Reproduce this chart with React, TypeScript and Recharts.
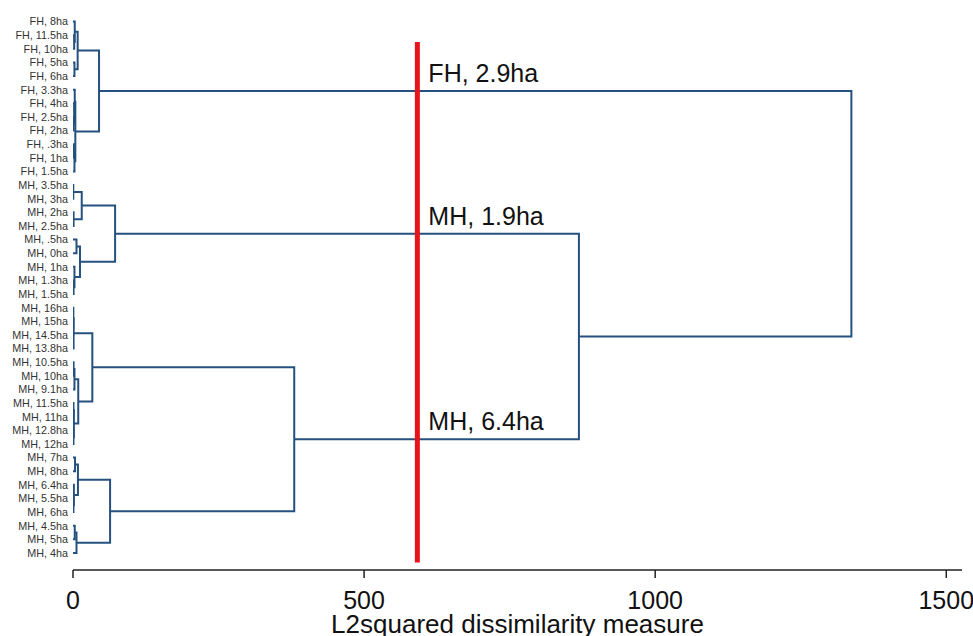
import React from 'react';
import { ComposedChart, Line, XAxis, YAxis, ReferenceDot } from 'recharts';

const leafLabels = [
  'FH, 8ha', 'FH, 11.5ha', 'FH, 10ha', 'FH, 5ha', 'FH, 6ha', 'FH, 3.3ha', 'FH, 4ha', 'FH, 2.5ha',
  'FH, 2ha', 'FH, .3ha', 'FH, 1ha', 'FH, 1.5ha',
  'MH, 3.5ha', 'MH, 3ha', 'MH, 2ha', 'MH, 2.5ha', 'MH, .5ha', 'MH, 0ha', 'MH, 1ha', 'MH, 1.3ha', 'MH, 1.5ha',
  'MH, 16ha', 'MH, 15ha', 'MH, 14.5ha', 'MH, 13.8ha', 'MH, 10.5ha', 'MH, 10ha', 'MH, 9.1ha', 'MH, 11.5ha',
  'MH, 11ha', 'MH, 12.8ha', 'MH, 12ha',
  'MH, 7ha', 'MH, 8ha', 'MH, 6.4ha', 'MH, 5.5ha', 'MH, 6ha', 'MH, 4.5ha', 'MH, 5ha', 'MH, 4ha',
];

// linkage: node ids 0..39 are leaves, 40+k is the k-th merge
const mergeLeft = [1, 0, 3, 41, 7, 6, 5, 9, 47, 46, 43, 12, 14, 51, 16, 19, 18, 54, 53, 22, 21, 60, 25, 62, 28, 30, 64, 63, 61, 32, 35, 34, 69, 37, 73, 72, 68, 58, 50];
const mergeRight = [2, 40, 4, 42, 8, 44, 45, 10, 11, 48, 49, 13, 15, 52, 17, 20, 55, 56, 57, 23, 59, 24, 26, 27, 29, 31, 65, 66, 67, 33, 36, 70, 71, 38, 39, 74, 75, 76, 77];
const mergeHeight = [2.0, 3.0, 2.5, 8.0, 1.0, 2.0, 3.0, 1.5, 2.5, 4.0, 44.7, 0.5, 1.0, 15, 6, 1.0, 2.5, 12, 72.3, 0.3, 0.6, 1.0, 1.0, 2.5, 0.8, 0.8, 1.5, 9, 33.2, 3.5, 0.8, 1.5, 8.5, 3.0, 6.0, 63.7, 380, 869, 1337];

const cutHeight = 591.5;
const cutSpan = [1.5, 39.7];
const cutLabels = ['FH, 2.9ha', 'MH, 1.9ha', 'MH, 6.4ha'];
const cutNodes = [50, 58, 76];

const xTicks = [0, 500, 1000, 1500];
const leafTicks = leafLabels.map((_, i) => i);

const FONT = '"Liberation Sans", Arial, Helvetica, sans-serif';
const BRANCH = '#25517f';

const n = leafLabels.length;
const nodeX: number[] = leafLabels.map(() => 0);
const nodeY: number[] = leafLabels.map((_, i) => i);
mergeHeight.forEach((h, k) => {
  nodeX[n + k] = h;
  nodeY[n + k] = (nodeY[mergeLeft[k]] + nodeY[mergeRight[k]]) / 2;
});

const segments = mergeHeight.map((h, k) => {
  const l = mergeLeft[k];
  const r = mergeRight[k];
  return [
    { x: nodeX[l], y: nodeY[l] },
    { x: h, y: nodeY[l] },
    { x: h, y: nodeY[r] },
    { x: nodeX[r], y: nodeY[r] },
  ];
});

const cutLine = [
  { x: cutHeight, y: cutSpan[0] },
  { x: cutHeight, y: cutSpan[1] },
];

const XTick = (props: any) => {
  const { x, y, payload } = props;
  return (
    <text x={x} y={y + 29} textAnchor="middle" fontSize={25} fill="#111" fontFamily={FONT}>
      {payload.value}
    </text>
  );
};

const YTick = (props: any) => {
  const { x, y, payload } = props;
  return (
    <text x={x} y={y} dy="0.355em" textAnchor="end" fontSize={10.8} fill="#333" fontFamily={FONT}>
      {leafLabels[payload.value]}
    </text>
  );
};

export default function App() {
  return (
    <div style={{ padding: '8px 0 0 8px', width: 965, height: 628, background: '#fff' }}>
      <style>{'body{margin:0;}'}</style>
      <ComposedChart
        width={965}
        height={628}
        margin={{ top: 0, right: 11, bottom: 0, left: 0 }}
        style={{ background: '#fff' }}
      >
        <XAxis
          type="number"
          dataKey="x"
          domain={[0, 1527]}
          ticks={xTicks}
          allowDataOverflow
          height={66}
          tickSize={8}
          stroke="#222"
          strokeWidth={1.5}
          tick={<XTick />}
          label={{
            value: 'L2squared dissimilarity measure',
            position: 'insideBottom',
            offset: 3,
            style: { fontSize: 26, fill: '#111', fontFamily: FONT },
          }}
        />
        <YAxis
          type="number"
          dataKey="y"
          domain={[-1, 40.25]}
          reversed
          allowDataOverflow
          ticks={leafTicks}
          interval={0}
          width={65}
          axisLine={false}
          tickLine={false}
          tickSize={0}
          tickMargin={5}
          tick={<YTick />}
        />
        {segments.map((seg, k) => (
          <Line
            key={k}
            data={seg}
            dataKey="y"
            type="linear"
            stroke={BRANCH}
            strokeWidth={2}
            dot={false}
            activeDot={false}
            isAnimationActive={false}
            strokeLinejoin="miter"
          />
        ))}
        <Line
          data={cutLine}
          dataKey="y"
          type="linear"
          stroke="#e8141c"
          strokeWidth={5}
          dot={false}
          activeDot={false}
          isAnimationActive={false}
        />
        {cutNodes.map((node, i) => (
          <ReferenceDot
            key={i}
            x={cutHeight}
            y={nodeY[node]}
            r={0}
            shape={(p: any) => (
              <text x={p.cx + 11} y={p.cy - 9} fontSize={25} fill="#111" fontFamily={FONT}>
                {cutLabels[i]}
              </text>
            )}
          />
        ))}
      </ComposedChart>
    </div>
  );
}
